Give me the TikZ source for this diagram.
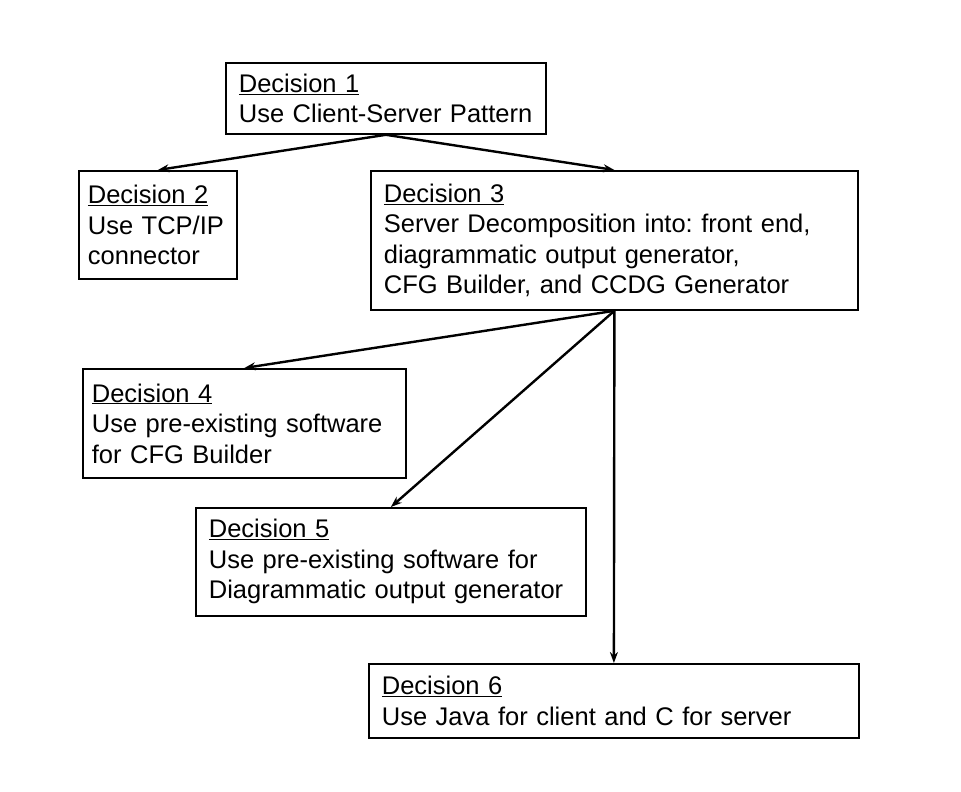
\documentclass[tikz,border=0pt]{standalone}
\usepackage{fontspec}
\setmainfont{Liberation Sans}
\usetikzlibrary{arrows.meta}
\frenchspacing
\tikzset{
  dbox/.style={draw=black, line width=1.8pt, anchor=north west, align=left,
    inner xsep=13pt, inner ysep=0pt,
    font=\fontsize{25.5}{30.5}\selectfont\frenchspacing},
  conn/.style={line width=2.4pt, -{Stealth[length=11pt,width=8pt]}}
}
\begin{document}
\begin{tikzpicture}[x=1pt,y=-1pt]
\useasboundingbox[fill=white] (0,0) rectangle (961,792);
\node[dbox, text width=294pt, minimum height=71pt] (d1) at (225,62)
  {\underline{Decision 1}\\Use Client-Server Pattern};
\node[dbox, inner xsep=9pt, text width=140pt, minimum height=108pt] (d2) at (78,170)
  {\underline{Decision 2}\\Use TCP/IP\\connector};
\node[dbox, text width=461pt, minimum height=139pt] (d3) at (370,170)
  {\underline{Decision 3}\\Server Decomposition into: front end,\\diagrammatic output generator,\\CFG Builder, and CCDG Generator};
\node[dbox, inner xsep=9pt, text width=305pt, minimum height=109pt] (d4) at (82,368)
  {\underline{Decision 4}\\Use pre-existing software\\for CFG Builder};
\node[dbox, text width=364pt, minimum height=108pt] (d5) at (195,507)
  {\underline{Decision 5}\\Use pre-existing software for\\Diagrammatic output generator};
\node[dbox, text width=464pt, minimum height=74pt] (d6) at (368,663)
  {\underline{Decision 6}\\Use Java for client and C for server};
\draw[conn] (d1.south) -- (d2.north);
\draw[conn] (d1.south) -- (d3.north);
\draw[conn] (d3.south) -- (d4.north);
\draw[conn] (d3.south) -- (d5.north);
\draw[conn] (d3.south) -- (d6.north);
\end{tikzpicture}
\end{document}
